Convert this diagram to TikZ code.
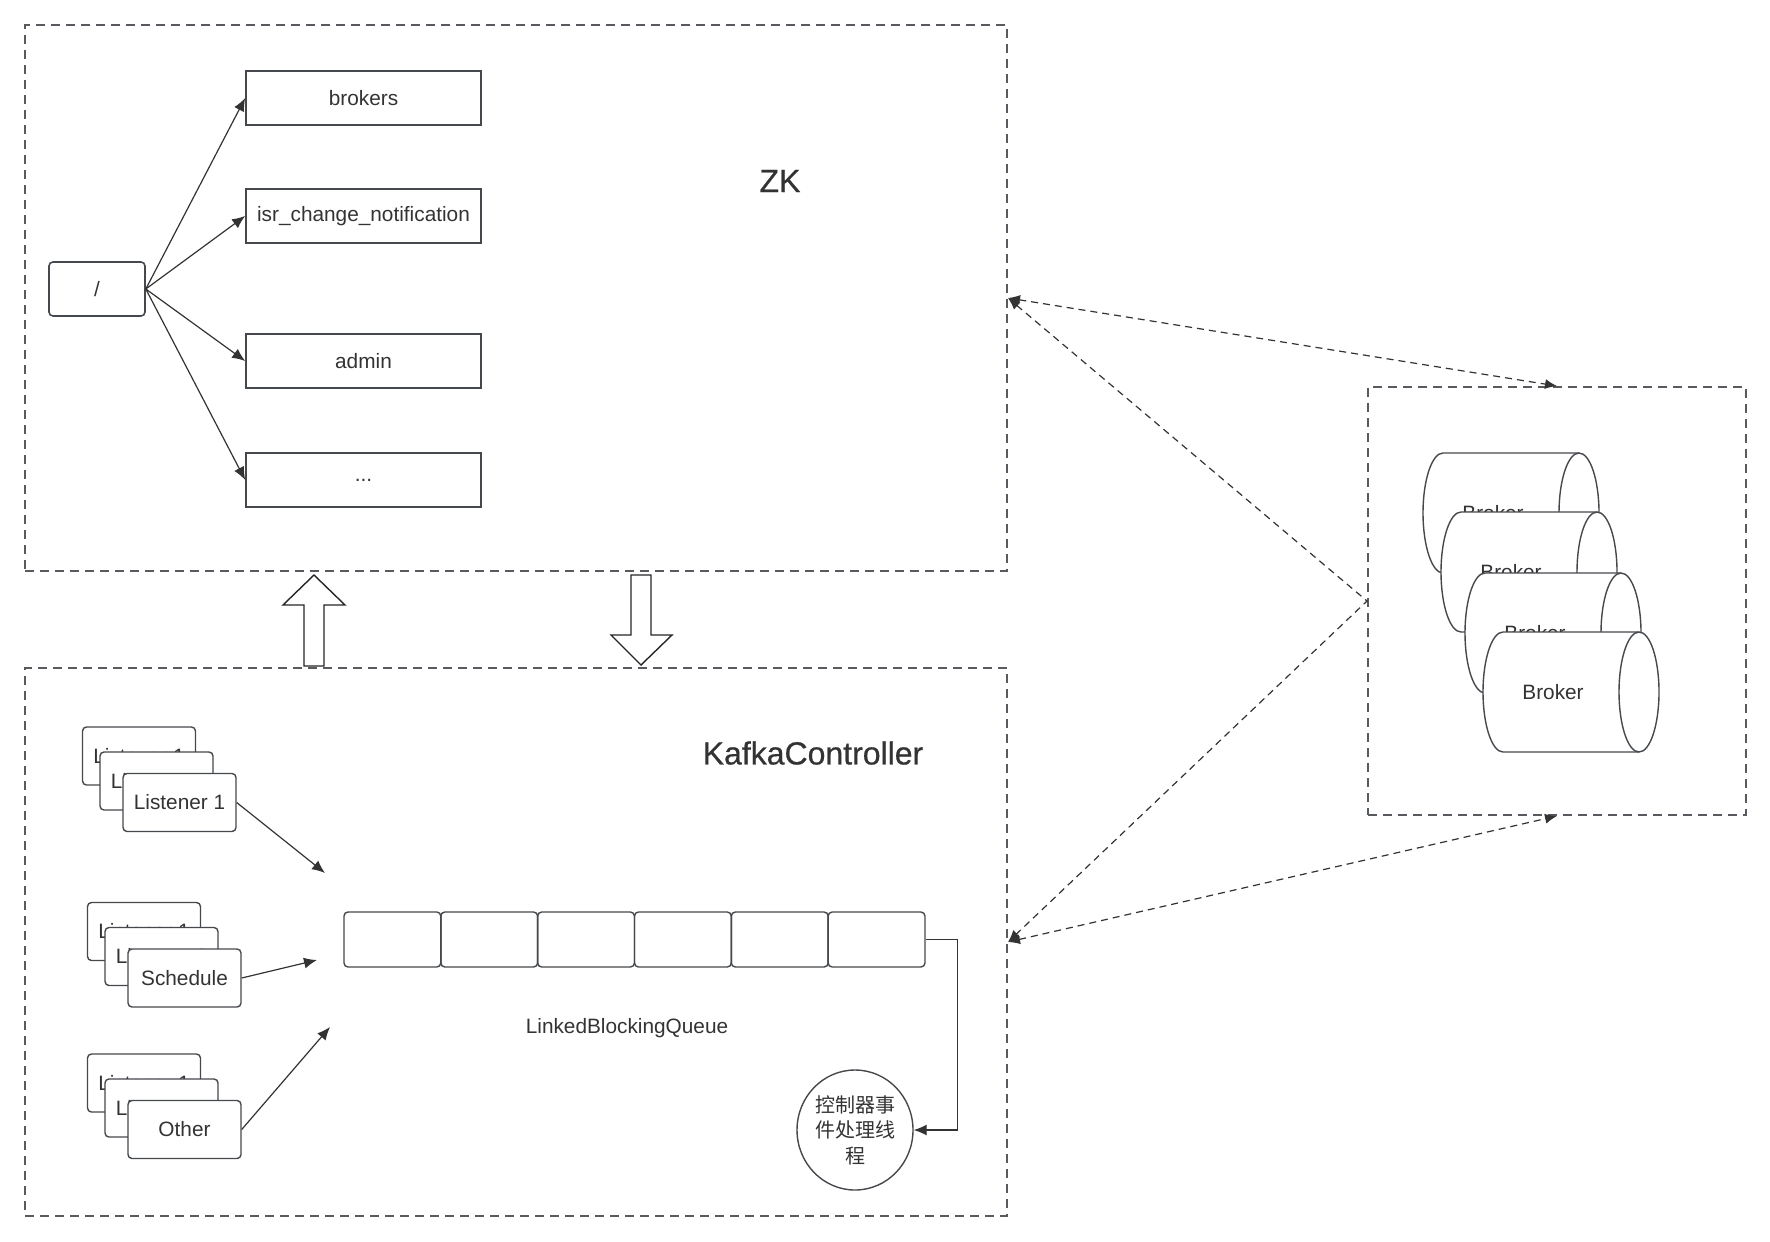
\documentclass[tikz,border=0pt]{standalone}
\usepackage{fontspec}
\setmainfont{Liberation Sans}
\newfontfamily\cjkfont{Noto Sans CJK SC}
\newfontfamily\titlefont[FakeBold=0.6]{Liberation Sans}
\usetikzlibrary{arrows.meta,shapes.geometric}
\definecolor{inkgray}{HTML}{333333}
\definecolor{boxgray}{HTML}{45484C}
\definecolor{dashgray}{HTML}{575B60}

\begin{document}
\begin{tikzpicture}[x=0.5pt,y=-0.5pt,
  every node/.style={inner sep=0pt,text=inkgray,font=\fontsize{10.4}{12.5}\selectfont},
  title/.style={font=\titlefont\fontsize{16}{19}\selectfont},
  region/.style={draw=dashgray,line width=1pt,dash pattern=on 4.5pt off 3pt},
  zknode/.style={draw=boxgray,line width=0.8pt,minimum width=117.5pt,minimum height=27pt},
  card/.style={draw=boxgray,fill=white,line width=0.7pt,rounded corners=2pt,minimum width=56.5pt,minimum height=29pt},
  cell/.style={draw=boxgray,line width=0.7pt,rounded corners=2pt,minimum width=48.4pt,minimum height=27.5pt},
  link/.style={draw=inkgray,line width=0.6pt,-{Latex[length=6.5pt,width=5.5pt]}},
  zklink/.style={draw=inkgray,line width=0.6pt,dash pattern=on 3.5pt off 2.5pt,{Latex[length=6pt,width=5pt]}-{Latex[length=6pt,width=5pt]}},
  blockarrow/.style={draw=black!85,line width=0.7pt,fill=white,line join=miter},
  cyl/.style={draw=boxgray,line width=0.7pt,fill=white}]

  \useasboundingbox (0,0) rectangle (1770,1241);

  \node[region,minimum width=491pt,minimum height=273pt] (zk) at (516,298) {};
  \node[region,minimum width=491pt,minimum height=274pt] (ctrl) at (516,942) {};
  \node[region,minimum width=189pt,minimum height=214pt] (brokerbox) at (1557,601) {};

  \node[title] (zktitle) at (780,181) {ZK};
  \node[zknode,rounded corners=2pt,minimum width=48pt] (root) at (97,289) {/};
  \node[zknode] (brokers) at (363.5,98) {brokers};
  \node[zknode] (isr) at (363.5,216) {isr\_change\_notification};
  \node[zknode] (admin) at (363.5,361) {admin};
  \node[zknode] (more) at (363.5,480) {...};
  \foreach \child in {brokers,isr,admin,more}
    \draw[link] (root.east) -- (\child.west);

  \draw[blockarrow] (304,666) -- (304,605) -- (283,605) -- (314,575) -- (345,605) -- (324,605) -- (324,666) -- cycle;
  \draw[blockarrow] (631,575) -- (651,575) -- (651,635) -- (672,635) -- (641,665) -- (611,635) -- (631,635) -- cycle;

  \node[title] (ctrltitle) at (813,753) {KafkaController};
  \foreach \s/\x/\y/\txt in {lis/139/756/Listener 1,sch/144/931.5/Schedule,oth/144/1083/Other} {
    \node[card] (\s-a) at (\x,\y) {Listener 1};
    \node[card] (\s-b) at (\x+17.5,\y+25) {Listener 1};
    \node[card] (\s-c) at (\x+40.5,\y+46.5) {\txt};
  }
  \coordinate (in1) at (325,873);
  \coordinate (in2) at (317,960);
  \coordinate (in3) at (330,1027);
  \draw[link] (lis-c.east) -- (in1);
  \draw[link] (sch-c.east) -- (in2);
  \draw[link] (oth-c.east) -- (in3);

  \foreach \i in {1,...,6}
    \node[cell] (q\i) at ({392.4+(\i-1)*96.83},939.5) {};
  \node (queuelabel) at (627,1028) {LinkedBlockingQueue};
  \node[draw=boxgray,line width=0.7pt,ellipse,minimum width=58pt,minimum height=60pt,align=center,font=\cjkfont\fontsize{10}{12.8}\selectfont] (thread) at (855,1130) {控制器事\\件处理线\\程};
  \draw[link] (q6.east) -- ++(32,0) |- (thread.east);

  \foreach \n/\cx/\cy in {1/1423/453,2/1441/512,3/1465/573,4/1483/632} {
    \draw[cyl] (\cx+20,\cy) -- (\cx+156,\cy) arc (270:450:20 and 60) -- (\cx+20,\cy+120) arc (90:270:20 and 60) -- cycle;
    \draw[cyl,fill=none] (\cx+156,\cy) arc (270:90:20 and 60);
    \node (broker\n) at (\cx+70,\cy+60) {Broker};
  }

  \draw[zklink] (zk.east) -- (brokerbox.north);
  \draw[zklink] (zk.east) -- (brokerbox.west) -- (ctrl.east);
  \draw[zklink] (ctrl.east) -- (brokerbox.south);
\end{tikzpicture}
\end{document}
